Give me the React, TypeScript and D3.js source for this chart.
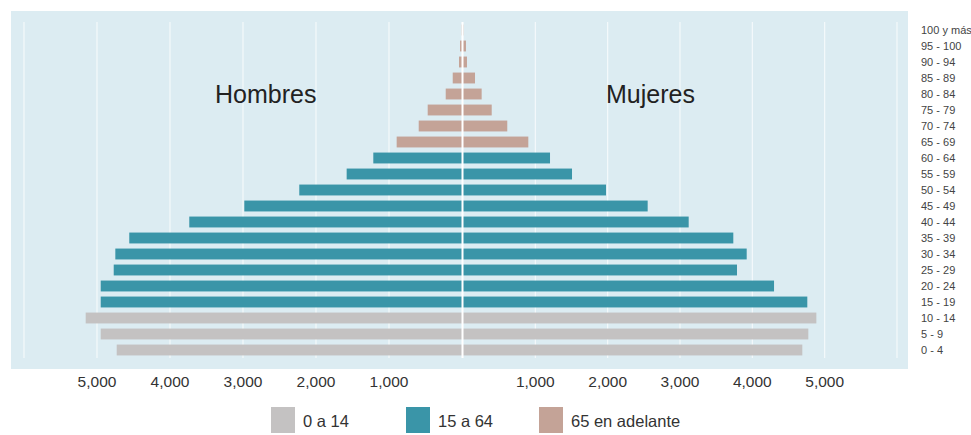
import React from "react";
import * as d3 from "d3";

const ages = ["0 - 4","5 - 9","10 - 14","15 - 19","20 - 24","25 - 29","30 - 34","35 - 39","40 - 44","45 - 49","50 - 54","55 - 59","60 - 64","65 - 69","70 - 74","75 - 79","80 - 84","85 - 89","90 - 94","95 - 100","100 y más"];
const hombres = [4730,4949,5155,4949,4949,4771,4749,4558,3736,2982,2229,1580,1215,895,593,470,223,127,41,27,5];
const mujeres = [4691,4774,4885,4760,4300,3788,3922,3737,3120,2553,1977,1507,1203,903,612,397,258,166,55,41,5];
const groups = ["0 a 14","0 a 14","0 a 14","15 a 64","15 a 64","15 a 64","15 a 64","15 a 64","15 a 64","15 a 64","15 a 64","15 a 64","15 a 64","65 en adelante","65 en adelante","65 en adelante","65 en adelante","65 en adelante","65 en adelante","65 en adelante","65 en adelante"];
const legendItems = ["0 a 14","15 a 64","65 en adelante"];
const tickValues = [1000,2000,3000,4000,5000];
const gridValues = [1000,2000,3000,4000,5000,6000];

const W = 971, H = 435;
const FONT = "'Liberation Sans', Arial, sans-serif";

export default function App() {
  const xL = d3.scaleLinear().domain([0, 6000]).range([462, 24]);
  const xR = d3.scaleLinear().domain([0, 6000]).range([463, 897]);
  const y = d3.scaleBand<string>().domain([...ages].reverse()).range([22, 358]).paddingInner(0.32).paddingOuter(0.16);
  const color = d3.scaleOrdinal<string, string>().domain(legendItems).range(["#c4c2c2", "#3a95a8", "#c4a397"]);
  const fmt = d3.format(",");
  const bw = y.bandwidth();
  const legendX = [271, 406, 539];

  return (
    <svg width={W} height={H} style={{ position: "absolute", left: 0, top: 0, background: "#fff" }} fontFamily={FONT}>
      <rect x={11} y={11} width={897} height={358} fill="#dcecf2" />
      {gridValues.map(v => (
        <g key={"g" + v}>
          <line x1={xL(v)} x2={xL(v)} y1={22} y2={358} stroke="#ffffff" strokeOpacity={0.7} strokeWidth={1.2} />
          <line x1={xR(v)} x2={xR(v)} y1={22} y2={358} stroke="#ffffff" strokeOpacity={0.7} strokeWidth={1.2} />
        </g>
      ))}
      {ages.map((a, i) => (
        <g key={a}>
          <rect x={xL(hombres[i])} y={y(a)} width={xL(0) - xL(hombres[i])} height={bw} fill={color(groups[i])} />
          <rect x={xR(0)} y={y(a)} width={xR(mujeres[i]) - xR(0)} height={bw} fill={color(groups[i])} />
          <text x={921} y={(y(a) as number) + bw / 2 + 1} dominantBaseline="middle" fontSize={11} fill="#444">{a}</text>
        </g>
      ))}
      <line x1={(xL(0) + xR(0)) / 2} x2={(xL(0) + xR(0)) / 2} y1={22} y2={358} stroke="#ffffff" strokeWidth={2} />
      <text x={215} y={103} fontSize={25} fill="#222">Hombres</text>
      <text x={606} y={103} fontSize={25} fill="#222">Mujeres</text>
      {tickValues.map(v => (
        <g key={"t" + v}>
          <text x={xL(v)} y={387} textAnchor="middle" fontSize={15.5} fill="#333">{fmt(v)}</text>
          <text x={xR(v)} y={387} textAnchor="middle" fontSize={15.5} fill="#333">{fmt(v)}</text>
        </g>
      ))}
      {legendItems.map((l, i) => (
        <g key={l}>
          <rect x={legendX[i]} y={407} width={24} height={26} fill={color(l)} />
          <text x={legendX[i] + 32} y={427} fontSize={16.5} fill="#333">{l}</text>
        </g>
      ))}
    </svg>
  );
}
